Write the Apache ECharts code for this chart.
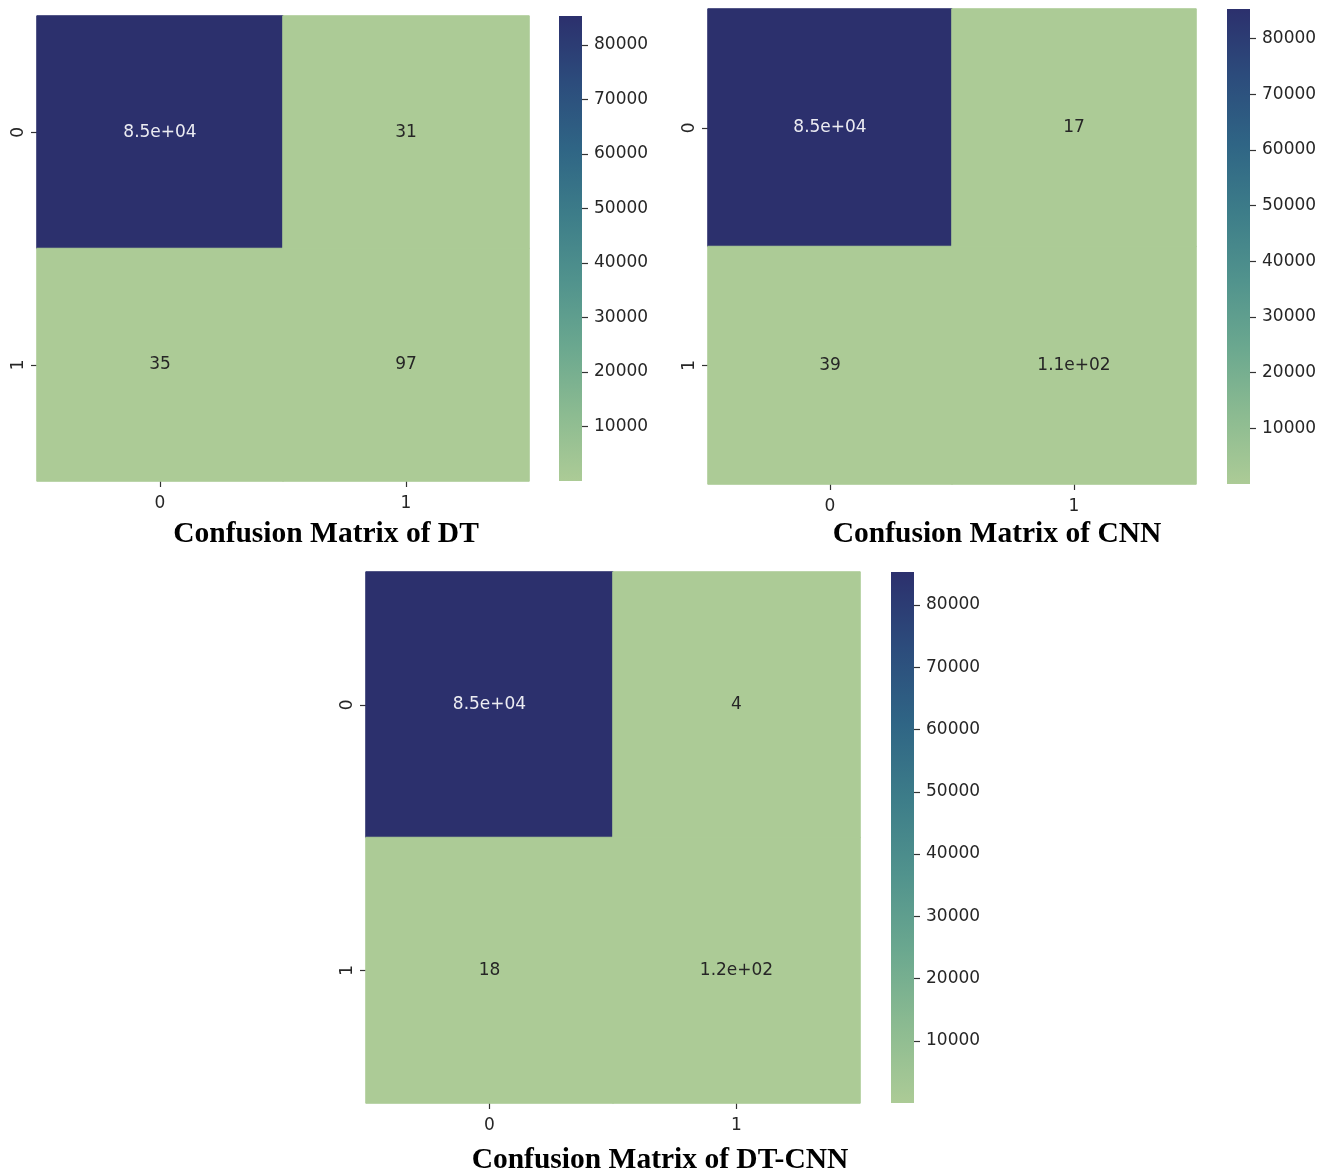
<!DOCTYPE html>
<html>
<head>
<meta charset="utf-8">
<script src="https://cdn.jsdelivr.net/npm/echarts@6/dist/echarts.min.js"></script>
<style>
html,body{margin:0;padding:0;background:#fff;}
#chart{width:1333px;height:1172px;}
</style>
</head>
<body>
<div id="chart"></div>
<script>
// ---- data ----
const categories = ['0', '1'];
const dtMatrix = [[85280, 31], [35, 97]];
const cnnMatrix = [[85279, 17], [39, 108]];
const dtcnnMatrix = [[85301, 4], [18, 120]];
const colorbarTicks = [10000, 20000, 30000, 40000, 50000, 60000, 70000, 80000];
const titles = ['Confusion Matrix of DT', 'Confusion Matrix of CNN', 'Confusion Matrix of DT-CNN'];
const crestColors = ['#accb96', '#8cbb91', '#6ba88f', '#51938d', '#3d7d89', '#2f6585', '#2c4c7c', '#2c306d'];

// ---- layout ----
const panels = [
  { m: dtMatrix, grid: { left: 37, top: 16, width: 492, height: 465 }, bar: { left: 559, top: 16, width: 23, height: 465 }, title: { x: 326, y: 519 } },
  { m: cnnMatrix, grid: { left: 708, top: 9, width: 488, height: 475 }, bar: { left: 1227, top: 9, width: 23, height: 475 }, title: { x: 997, y: 519 } },
  { m: dtcnnMatrix, grid: { left: 366, top: 572, width: 494, height: 531 }, bar: { left: 891, top: 572, width: 23, height: 531 }, title: { x: 660, y: 1145 } }
];

function fmt2g(v) {
  if (Math.abs(v) < 100) return String(v);
  const s = v.toExponential(1);
  const parts = s.split('e');
  const sign = parts[1][0];
  const d = parts[1].slice(1).padStart(2, '0');
  return parts[0] + 'e' + sign + d;
}

const textColor = '#262626';
const font = 'DejaVu Sans';

const option = {
  backgroundColor: '#fff',
  animation: false,
  title: [],
  grid: [],
  xAxis: [],
  yAxis: [],
  visualMap: [],
  series: []
};

panels.forEach((p, i) => {
  const flat = p.m.flat();
  const vmin = Math.min.apply(null, flat);
  const vmax = Math.max.apply(null, flat);
  const mid = (vmin + vmax) / 2;

  // heatmap grid
  option.grid.push(Object.assign({}, p.grid));
  const hg = option.grid.length - 1;
  option.xAxis.push({
    type: 'category', gridIndex: hg, data: categories,
    axisLine: { show: false },
    axisTick: { show: true, alignWithLabel: true, length: 6, lineStyle: { color: '#333', width: 1.2 } },
    axisLabel: { fontFamily: font, fontSize: 17, color: textColor, margin: 14 },
    splitLine: { show: false }
  });
  option.yAxis.push({
    type: 'category', gridIndex: hg, data: categories, inverse: true,
    axisLine: { show: false },
    axisTick: { show: true, alignWithLabel: true, length: 6, lineStyle: { color: '#333', width: 1.2 } },
    axisLabel: { fontFamily: font, fontSize: 17, color: textColor, margin: 10, rotate: 90 },
    splitLine: { show: false }
  });
  const hAxis = option.xAxis.length - 1;
  const data = [];
  p.m.forEach((row, r) => {
    row.forEach((v, c) => {
      const hi = v > mid;
      data.push({
        value: [c, r, v],
        label: { color: hi ? '#ececf2' : textColor },
        itemStyle: { borderWidth: 1, borderColor: hi ? crestColors[crestColors.length - 1] : crestColors[0] }
      });
    });
  });
  option.series.push({
    type: 'heatmap', xAxisIndex: hAxis, yAxisIndex: hAxis, data: data,
    label: {
      show: true, fontFamily: font, fontSize: 17,
      formatter: (prm) => fmt2g(prm.value[2])
    },
    emphasis: { disabled: true }
  });
  const hs = option.series.length - 1;
  option.visualMap.push({
    type: 'continuous', show: false, seriesIndex: hs, dimension: 2,
    min: vmin, max: vmax, inRange: { color: crestColors }
  });

  // colorbar grid
  option.grid.push(Object.assign({}, p.bar));
  const bg = option.grid.length - 1;
  option.xAxis.push({
    type: 'category', gridIndex: bg, data: [''],
    axisLine: { show: false }, axisTick: { show: false }, axisLabel: { show: false }
  });
  option.yAxis.push({
    type: 'value', gridIndex: bg, position: 'right', min: vmin, max: vmax,
    axisLine: { show: false },
    splitLine: { show: false },
    axisTick: { show: true, length: 6, customValues: colorbarTicks, lineStyle: { color: '#333', width: 1.2 } },
    axisLabel: {
      show: true, customValues: colorbarTicks, fontFamily: font, fontSize: 17, color: textColor, margin: 12,
      formatter: (v) => String(v)
    }
  });
  const bAxis = option.xAxis.length - 1;
  const stops = crestColors.map((c, k) => ({ offset: k / (crestColors.length - 1), color: c }));
  option.series.push({
    type: 'bar', xAxisIndex: bAxis, yAxisIndex: bAxis, data: [vmax],
    barWidth: '100%', silent: true,
    itemStyle: { color: new echarts.graphic.LinearGradient(0, 1, 0, 0, stops) }
  });

  option.title.push({
    text: titles[i], left: p.title.x, top: p.title.y, textAlign: 'center', padding: 0,
    textStyle: { fontFamily: 'Liberation Serif', fontWeight: 'bold', fontSize: 29.5, color: '#000' }
  });
});

const chart = echarts.init(document.getElementById('chart'), null, { renderer: 'canvas' });
chart.setOption(option);
</script>
</body>
</html>
